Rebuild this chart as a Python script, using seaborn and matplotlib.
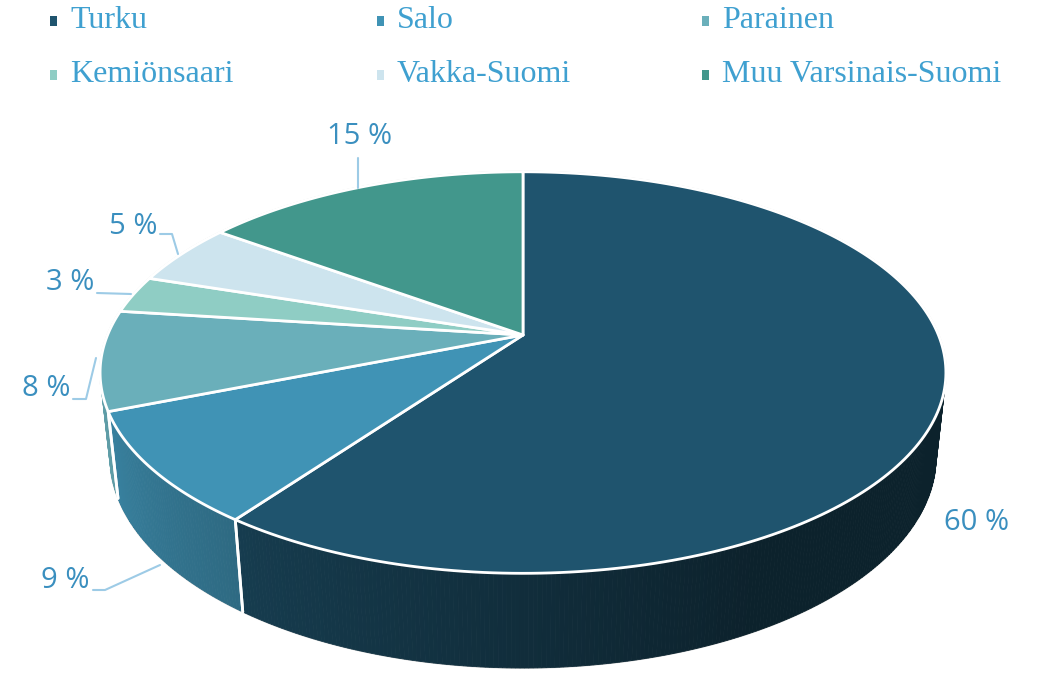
import numpy as np
import matplotlib
matplotlib.use("Agg")
import matplotlib.pyplot as plt
import seaborn as sns
from matplotlib.patches import Polygon

names = ["Turku", "Salo", "Parainen", "Kemiönsaari", "Vakka-Suomi", "Muu Varsinais-Suomi"]
shares = [60, 9, 8, 3, 5, 15]
labels = ["60 %", "9 %", "8 %", "3 %", "5 %", "15 %"]
colors = ["#1f546e", "#4093b5", "#6aafba", "#8fcdc4", "#cde4ee", "#42978c"]

sns.set_style("white")

# perspective camera for the tilted pie (pixel space)
CX, CY = 523, 335
F, D, H = 1965.0, 4.73, 0.23
E = np.radians(27.8)
s, c = np.sin(E), np.cos(E)


def proj(theta, z=0.0):
    t = np.radians(theta)
    x, y = np.cos(t), np.sin(t)
    depth = D + y * c - z * s
    return CX + F * x / depth, CY - F * (y * s + z * c) / depth


fig = plt.figure(figsize=(10.41, 6.74), dpi=100)
ax = fig.add_axes([0, 0, 1, 1])
ax.set_xlim(0, 1041)
ax.set_ylim(674, 0)
ax.axis("off")

# angles: start at 12 o'clock, clockwise
cum = np.concatenate([[0], np.cumsum(shares)]) / np.sum(shares)
starts = 90 - 360 * cum[:-1]
ends = 90 - 360 * cum[1:]

vis_lo, vis_hi = 194.0, 346.0


def shade(theta):
    return max(0.40, 0.92 - 0.005 * (theta - vis_lo))


# side walls
for a0, a1, col in zip(starts, ends, colors):
    seg_lo, seg_hi = a1 % 360, a0 % 360
    if seg_hi <= seg_lo:
        seg_hi += 360
    lo = max(seg_lo, vis_lo)
    hi = min(seg_hi, vis_hi)
    if hi <= lo:
        continue
    base = np.array(matplotlib.colors.to_rgb(col))
    edges = np.linspace(lo, hi, max(4, int((hi - lo) * 2)))
    for t0, t1 in zip(edges[:-1], edges[1:]):
        ts = np.linspace(t0, t1, 4)
        top = [proj(t, 0) for t in ts]
        bot = [proj(t, -H) for t in ts[::-1]]
        fc = base * shade(0.5 * (t0 + t1))
        ax.add_patch(Polygon(top + bot, closed=True, facecolor=fc, edgecolor=fc, lw=0.6, zorder=2))
    # white vertical edges at slice boundaries
    for t in (seg_lo, seg_hi):
        if vis_lo < t < vis_hi:
            p0, p1 = proj(t, 0), proj(t, -H)
            ax.plot([p0[0], p1[0]], [p0[1], p1[1]], color="white", lw=2, zorder=3)

# thin grey outline of the silhouette
ts = np.linspace(vis_lo, vis_hi, 200)
bx, by = zip(*[proj(t, -H) for t in ts])
ax.plot(bx, by, color="#cfcfcf", lw=1.2, zorder=1.5)
ts = np.linspace(vis_hi - 360, vis_lo, 300)
tx, ty = zip(*[proj(t, 0) for t in ts])
ax.plot(tx, ty, color="#cfcfcf", lw=1.5, zorder=1.5)

# top faces
for a0, a1, col in zip(starts, ends, colors):
    ts = np.linspace(a0, a1, 200)
    pts = [(CX, CY)] + [proj(t, 0) for t in ts]
    ax.add_patch(Polygon(pts, closed=True, facecolor=col, edgecolor="white", lw=2, joinstyle="round", zorder=4))

# data labels with leader lines
lab_col = "#3a8fbf"
line_col = "#9dcbe6"
lab_pos = [(977, 522), (65, 580), (46, 388), (70, 283), (133, 226), (360, 137)]
leaders = [
    None,
    [(93, 590), (105, 590), (160, 565)],
    [(73, 399), (86, 399), (96, 358)],
    [(97, 293), (131, 294)],
    [(160, 234), (172, 234), (178, 254)],
    [(358, 158), (358, 188)],
]
for lab, (x, y), ld in zip(labels, lab_pos, leaders):
    ax.text(x, y, lab, ha="center", va="center", fontsize=21, color=lab_col,
            family="Open Sans", zorder=6)
    if ld:
        lx, ly = zip(*ld)
        ax.plot(lx, ly, color=line_col, lw=1.5, zorder=5)

# legend
leg_x = [50, 377, 702]
leg_y = [21, 75]
for i, (nm, col) in enumerate(zip(names, colors)):
    x = leg_x[i % 3]
    y = leg_y[i // 3]
    ax.add_patch(plt.Rectangle((x, y - 5), 7, 10, facecolor=col, edgecolor="none", zorder=6))
    ax.text(x + 20, y, nm, ha="left", va="center", fontsize=23, color="#3fa0d0",
            family="Liberation Serif", zorder=6)

fig.savefig("out.png", dpi=100)
